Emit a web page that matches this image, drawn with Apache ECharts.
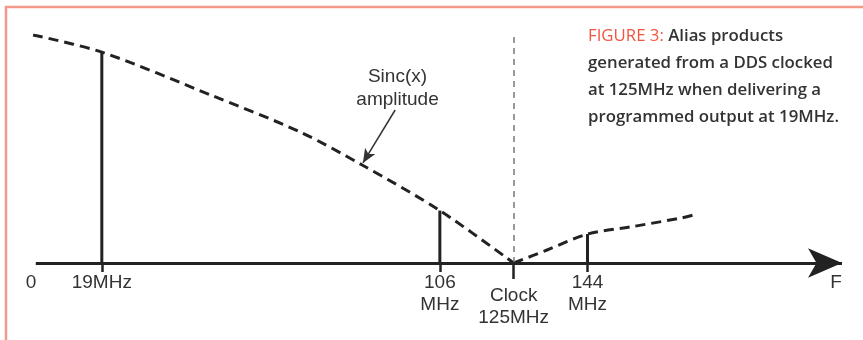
<!DOCTYPE html>
<html>
<head>
<meta charset="utf-8">
<script src="https://cdn.jsdelivr.net/npm/echarts@6/dist/echarts.min.js"></script>
<style>
  html, body { margin: 0; padding: 0; background: #fff; }
  #chart { width: 863px; height: 340px; }
</style>
</head>
<body>
<div id="chart"></div>
<script>
// sinc(x) envelope (MHz, relative amplitude)
const sincFreq = [1.3, 19, 47, 70, 86, 106, 125]
const sincAmp = [1.0, 0.925, 0.737, 0.575, 0.43, 0.23, 0]
const aliasFreq = [125, 133.6, 144, 155, 168, 171.4]
const aliasAmp = [0, 0.057, 0.127, 0.158, 0.197, 0.211]

// output + alias products
const productFreq = [19, 106, 144]
const productAmp = [0.925, 0.23, 0.127]

const clockFreq = 125
const tickValues = [0.8, 19, 106, 144, 208]
const tickLabels = ['0', '19MHz', '106\nMHz', '144\nMHz', 'F']
const clockLabel = 'Clock\n125MHz'

const axisStart = 2
const axisEnd = 209.5

const pairs = (xs, ys) => xs.map((x, i) => [x, ys[i]])

const chart = echarts.init(document.getElementById('chart'))

const labelFont = {
  fontFamily: 'Liberation Sans',
  fontSize: 19,
  color: '#333',
  lineHeight: 22
}

const option = {
  animation: false,
  backgroundColor: '#fff',
  title: {
    left: 588,
    top: 23,
    padding: 0,
    text: '{fig|FIGURE 3:} Alias products\ngenerated from a DDS clocked\nat 125MHz when delivering a\nprogrammed output at 19MHz.',
    textStyle: {
      fontFamily: 'Open Sans',
      fontWeight: 600,
      fontSize: 16.8,
      lineHeight: 27,
      color: '#333',
      rich: {
        fig: { color: '#F0553F', fontFamily: 'Open Sans', fontWeight: 500, fontSize: 16.8, lineHeight: 27 }
      }
    }
  },
  graphic: [
    {
      type: 'polyline',
      shape: { points: [[6, 340], [6, 7], [863, 7]] },
      style: { stroke: '#F2998A', lineWidth: 2.5, fill: null },
      silent: true
    }
  ],
  grid: { left: 28, right: 21, top: 35, bottom: 77 },
  xAxis: [
    {
      type: 'value',
      min: 0,
      max: axisEnd,
      axisLine: { show: false },
      splitLine: { show: false },
      axisTick: {
        show: true,
        customValues: productFreq,
        length: 9,
        lineStyle: { color: '#222', width: 2.5 }
      },
      axisLabel: {
        customValues: tickValues,
        margin: 9,
        verticalAlign: 'top',
        ...labelFont,
        formatter: (v) => tickLabels[tickValues.indexOf(v)]
      }
    },
    {
      type: 'value',
      position: 'bottom',
      min: 0,
      max: axisEnd,
      axisLine: { show: false },
      splitLine: { show: false },
      axisTick: {
        show: true,
        customValues: [clockFreq],
        length: 16,
        lineStyle: { color: '#222', width: 2.5 }
      },
      axisLabel: {
        customValues: [clockFreq],
        margin: 22,
        verticalAlign: 'top',
        ...labelFont,
        formatter: () => clockLabel
      }
    }
  ],
  yAxis: { type: 'value', min: 0, max: 1, show: false },
  series: [
    {
      name: 'products',
      type: 'bar',
      barWidth: 3,
      data: pairs(productFreq, productAmp),
      itemStyle: { color: '#222' },
      silent: true,
      markLine: {
        silent: true,
        symbol: 'none',
        label: { show: false },
        lineStyle: { color: '#7a7a7a', width: 1.5, type: [6, 5] },
        data: [{ xAxis: clockFreq }]
      }
    },
    {
      name: 'sinc',
      type: 'line',
      data: pairs(sincFreq, sincAmp),
      smooth: 0.3,
      showSymbol: false,
      lineStyle: { color: '#222', width: 3, type: [10, 6] },
      silent: true,
      markPoint: {
        silent: true,
        symbol: 'circle',
        symbolSize: 1,
        itemStyle: { color: 'rgba(0,0,0,0)' },
        label: {
          show: true,
          position: 'inside',
          formatter: 'Sinc(x)\namplitude',
          fontFamily: 'Liberation Sans',
          fontSize: 19,
          lineHeight: 23,
          color: '#333'
        },
        data: [{ coord: [95.1, 0.765] }]
      },
      markLine: {
        silent: true,
        symbol: ['none', 'arrow'],
        symbolSize: [9, 14],
        label: { show: false },
        lineStyle: { color: '#333', width: 1.5, type: 'solid' },
        data: [[{ coord: [94.5, 0.671] }, { coord: [86.2, 0.439] }]]
      }
    },
    {
      name: 'alias',
      type: 'line',
      data: pairs(aliasFreq, aliasAmp),
      smooth: 0.3,
      showSymbol: false,
      lineStyle: { color: '#222', width: 3, type: [10, 6] },
      silent: true,
      markLine: {
        silent: true,
        symbol: ['none', 'arrow'],
        symbolSize: [22, 34],
        label: { show: false },
        lineStyle: { color: '#222', width: 3, type: 'solid' },
        data: [[{ coord: [axisStart, 0] }, { coord: [axisEnd, 0] }]]
      }
    }
  ]
}

chart.setOption(option)
</script>
</body>
</html>
